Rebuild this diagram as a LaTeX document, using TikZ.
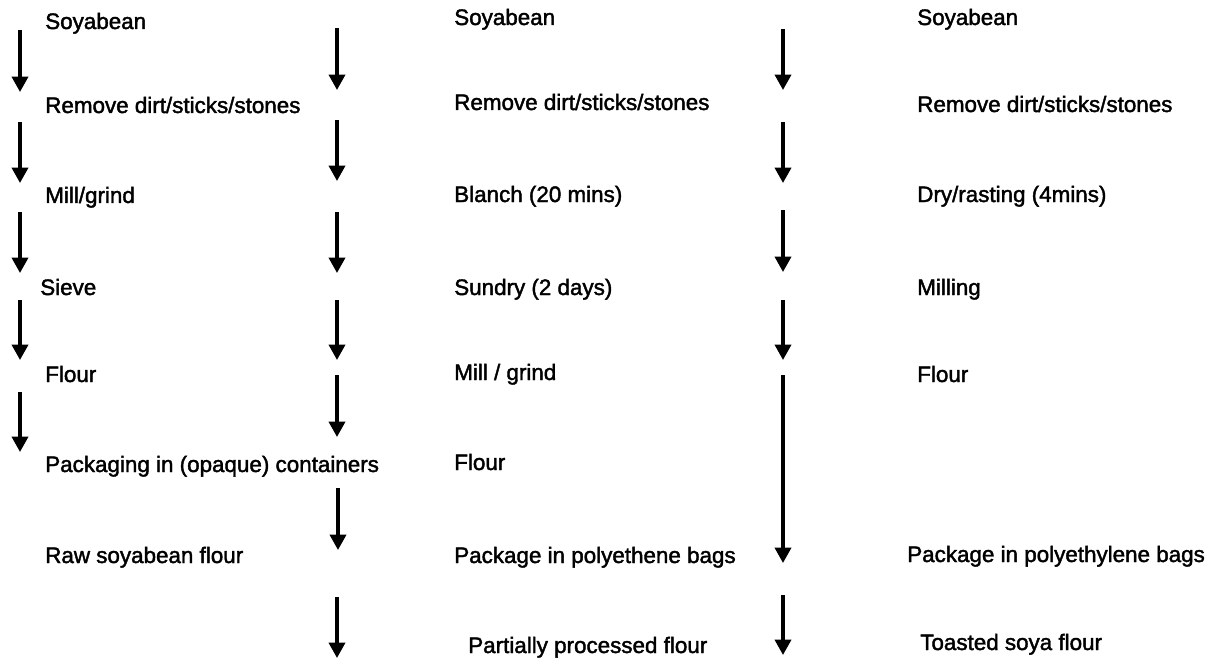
\documentclass[tikz,border=0pt]{standalone}
\usepackage{fontspec}
\setmainfont{Liberation Sans}
\newfontfamily\heavyfont[FakeBold=1.8]{Liberation Sans}
\usetikzlibrary{arrows.meta}
\begin{document}
\begin{tikzpicture}[x=0.75pt,y=-0.75pt,
  lbl/.style={anchor=base west,inner sep=0pt,font=\heavyfont\fontsize{16.8}{20}\selectfont},
  flow/.style={line width=2.6pt,-{Triangle[width=12pt,length=11.5pt]}}]
\useasboundingbox (0,0) rectangle (1208,660);
% column 1 texts
\node[lbl] (a1) at (45,29)  {Soyabean};
\node[lbl] (a2) at (45,113) {Remove dirt/sticks/stones};
\node[lbl] (a3) at (45,203) {Mill/grind};
\node[lbl] (a4) at (40,295) {Sieve};
\node[lbl] (a5) at (45,382) {Flour};
\node[lbl] (a6) at (45,472) {Packaging in (opaque) containers};
\node[lbl] (a7) at (45,563) {Raw soyabean flour};
% column 2 texts
\node[lbl] (b1) at (454,25)  {Soyabean};
\node[lbl] (b2) at (454,110) {Remove dirt/sticks/stones};
\node[lbl] (b3) at (454,202) {Blanch (20 mins)};
\node[lbl] (b4) at (454,295) {Sundry (2 days)};
\node[lbl] (b5) at (454,380) {Mill / grind};
\node[lbl] (b6) at (454,470) {Flour};
\node[lbl] (b7) at (454,563) {Package in polyethene bags};
\node[lbl] (b8) at (468,653) {Partially processed flour};
% column 3 texts
\node[lbl] (c1) at (917,25)  {Soyabean};
\node[lbl] (c2) at (917,112) {Remove dirt/sticks/stones};
\node[lbl] (c3) at (917,202) {Dry/rasting (4mins)};
\node[lbl] (c4) at (917,295) {Milling};
\node[lbl] (c5) at (917,382) {Flour};
\node[lbl] (c6) at (907,562) {Package in polyethylene bags};
\node[lbl] (c7) at (920,650) {Toasted soya flour};
% arrows
\foreach \n/\x/\ya/\yb in {
  p1/20/30/92, p2/20/122/183, p3/20/212/273, p4/20/300/360, p5/20/392/452,
  q1/337/28/90, q2/337/120/181, q3/337/212/273, q4/337/300/360, q5/337/375/437,
  q6/338/488/550, q7/337/597/658,
  r1/783/29/90, r2/783/122/183, r3/783/210/272, r4/783/300/360, r5/783/375/563,
  r6/783/595/655}{
  \coordinate (\n s) at (\x,\ya);
  \coordinate (\n e) at (\x,\yb);
  \draw[flow] (\n s) -- (\n e);
}
\end{tikzpicture}
\end{document}
